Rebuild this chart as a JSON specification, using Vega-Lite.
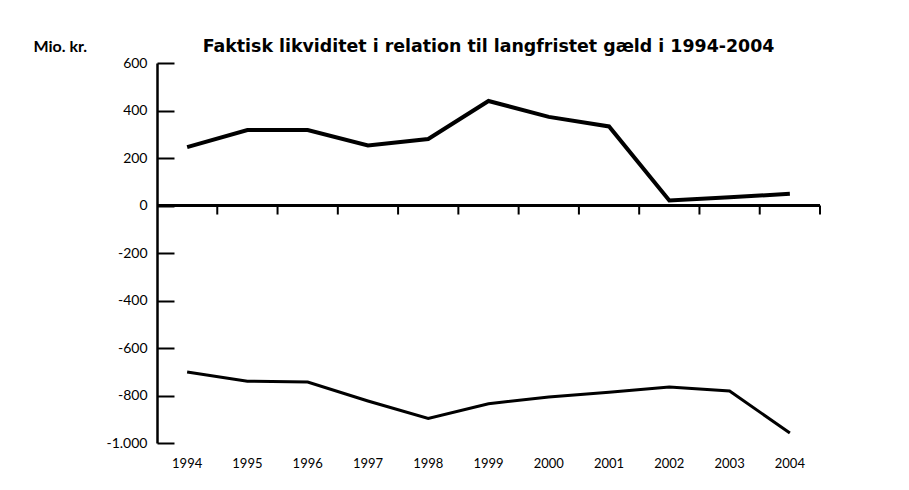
{
  "$schema": "https://vega.github.io/schema/vega-lite/v6.json",
  "width": 663,
  "height": 380,
  "autosize": {"type": "none"},
  "padding": {"left": 157, "top": 63, "right": 89, "bottom": 47},
  "background": "white",
  "title": {
    "text": "Faktisk likviditet i relation til langfristet gæld i 1994-2004",
    "anchor": "middle",
    "baseline": "bottom",
    "offset": 11,
    "dy": 46,
    "font": "DejaVu Sans",
    "fontSize": 17.4,
    "fontWeight": "bold",
    "color": "black"
  },
  "data": {
    "values": [
      {"år": "1994", "serie": "Likviditet", "værdi": 246},
      {"år": "1995", "serie": "Likviditet", "værdi": 318},
      {"år": "1996", "serie": "Likviditet", "værdi": 318},
      {"år": "1997", "serie": "Likviditet", "værdi": 253},
      {"år": "1998", "serie": "Likviditet", "værdi": 280},
      {"år": "1999", "serie": "Likviditet", "værdi": 440},
      {"år": "2000", "serie": "Likviditet", "værdi": 373},
      {"år": "2001", "serie": "Likviditet", "værdi": 333},
      {"år": "2002", "serie": "Likviditet", "værdi": 21},
      {"år": "2003", "serie": "Likviditet", "værdi": 35},
      {"år": "2004", "serie": "Likviditet", "værdi": 49},
      {"år": "1994", "serie": "Langfristet gæld", "værdi": -701},
      {"år": "1995", "serie": "Langfristet gæld", "værdi": -740},
      {"år": "1996", "serie": "Langfristet gæld", "værdi": -743},
      {"år": "1997", "serie": "Langfristet gæld", "værdi": -823},
      {"år": "1998", "serie": "Langfristet gæld", "værdi": -897},
      {"år": "1999", "serie": "Langfristet gæld", "værdi": -835},
      {"år": "2000", "serie": "Langfristet gæld", "værdi": -806},
      {"år": "2001", "serie": "Langfristet gæld", "værdi": -786},
      {"år": "2002", "serie": "Langfristet gæld", "værdi": -764},
      {"år": "2003", "serie": "Langfristet gæld", "værdi": -781},
      {"år": "2004", "serie": "Langfristet gæld", "værdi": -958}
    ]
  },
  "encoding": {
    "x": {
      "field": "år",
      "type": "ordinal",
      "scale": {"type": "band", "paddingInner": 0, "paddingOuter": 0},
      "axis": {
        "title": null,
        "domain": false,
        "ticks": false,
        "labelAngle": 0,
        "labelPadding": 14,
        "labelFont": "Lato",
        "labelFontSize": 13,
        "labelColor": "black"
      }
    }
  },
  "layer": [
    {
      "mark": {"type": "rule", "color": "black", "strokeWidth": 2},
      "encoding": {"x": null, "y": {"datum": 0, "type": "quantitative"}}
    },
    {
      "mark": {"type": "rule", "color": "black", "strokeWidth": 2},
      "transform": [{"filter": "datum.serie === 'Likviditet'"}],
      "encoding": {
        "x": {"field": "år", "type": "ordinal", "bandPosition": 1},
        "y": {"datum": 0, "type": "quantitative"},
        "y2": {"datum": -38}
      }
    },
    {
      "mark": {"type": "line", "color": "black", "strokeJoin": "miter", "strokeCap": "butt"},
      "encoding": {
        "y": {
          "field": "værdi",
          "type": "quantitative",
          "scale": {"domain": [-1000, 600], "nice": false, "zero": false},
          "axis": {
            "values": [-1000, -800, -600, -400, -200, 0, 200, 400, 600],
            "format": ",d",
            "grid": false,
            "domainColor": "black",
            "domainWidth": 2.5,
            "tickColor": "black",
            "tickWidth": 2,
            "tickSize": -17,
            "labelPadding": 27,
            "labelFont": "Lato",
            "labelFontSize": 14,
            "labelColor": "black",
            "title": "Mio. kr.",
            "titleAngle": 0,
            "titleAlign": "left",
            "titleBaseline": "bottom",
            "titleX": -124,
            "titleY": -9,
            "titleFont": "Lato",
            "titleFontSize": 16,
            "titleFontWeight": "bold",
            "titleColor": "black"
          }
        },
        "detail": {"field": "serie"},
        "strokeWidth": {
          "field": "serie",
          "type": "nominal",
          "scale": {"domain": ["Likviditet", "Langfristet gæld"], "range": [4, 3]},
          "legend": null
        }
      }
    }
  ],
  "config": {
    "view": {"stroke": null},
    "locale": {
      "number": {
        "decimal": ",",
        "thousands": ".",
        "grouping": [3],
        "currency": ["", " kr."],
        "minus": "-"
      }
    }
  }
}
